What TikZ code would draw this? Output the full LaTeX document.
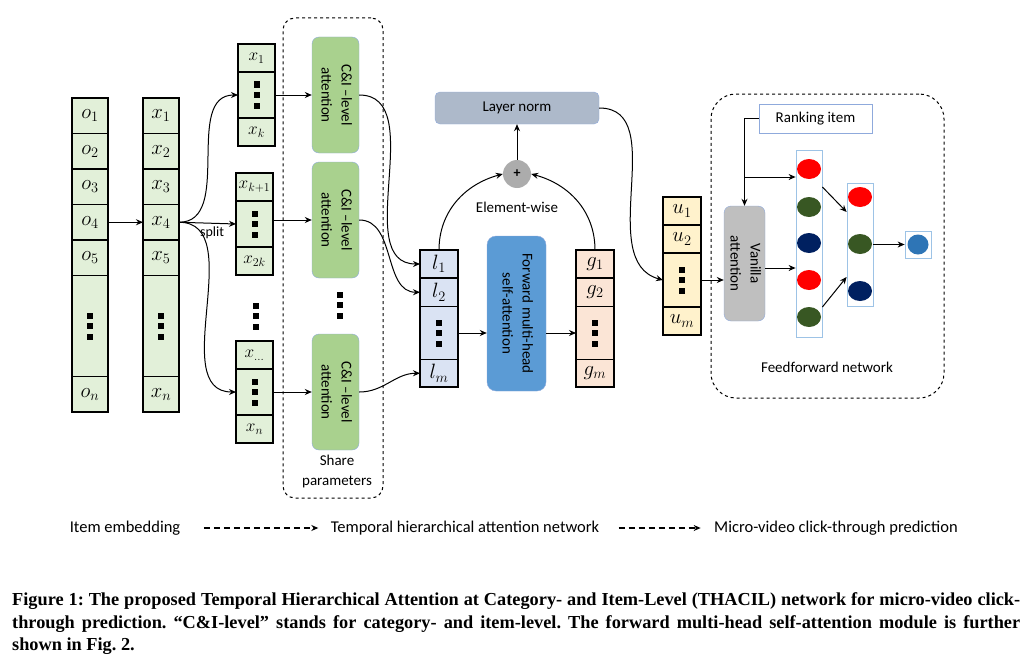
\documentclass[tikz,border=0pt]{standalone}
\usepackage{fontspec}
\setmainfont{Carlito}
\newfontfamily\capfont{Liberation Serif}
\usepackage{graphicx}
\usetikzlibrary{arrows.meta, positioning, shapes.geometric}

\definecolor{embgreen}{HTML}{E2F0D9}
\definecolor{attgreen}{HTML}{A9D18E}
\definecolor{attedge}{HTML}{8FAADC}
\definecolor{normgray}{HTML}{ADB9CA}
\definecolor{lblue}{HTML}{DAE3F3}
\definecolor{fwdblue}{HTML}{5B9BD5}
\definecolor{gpeach}{HTML}{FBE5D6}
\definecolor{uyellow}{HTML}{FFF2CC}
\definecolor{vangray}{HTML}{BFBFBF}
\definecolor{neured}{HTML}{FF0000}
\definecolor{neugreen}{HTML}{385723}
\definecolor{neunavy}{HTML}{002060}
\definecolor{outblue}{HTML}{2E75B6}
\definecolor{layedge}{HTML}{9DC3E6}

\newcommand{\sqdots}{\vbox{\offinterlineskip\hbox{\rule{6pt}{6pt}}\vskip4.5pt\hbox{\rule{6pt}{6pt}}\vskip4.5pt\hbox{\rule{6pt}{6pt}}}}
\newcommand{\vtext}[2]{\rotatebox{-90}{\begin{tabular}{@{}c@{}}#1\\#2\end{tabular}}}

\begin{document}
\frenchspacing
\begin{tikzpicture}[x=1pt, y=-1pt, >={Stealth[length=7pt, width=6pt]}, node distance=0pt, font=\fontsize{15}{20}\selectfont,
    cell/.style={draw, line width=1.2pt, inner sep=0pt, outer sep=0pt, font=\fontsize{20.74}{24}\selectfont},
    emb/.style={cell, fill=embgreen, minimum width=36pt, minimum height=35.5pt},
    sub/.style={cell, fill=embgreen, minimum width=37pt, minimum height=28pt, font=\fontsize{17.28}{20}\selectfont},
    seq/.style={cell, minimum width=38pt, minimum height=28pt, font=\fontsize{20.74}{24}\selectfont},
    catt/.style={draw=attedge, fill=attgreen, rounded corners=7pt, minimum width=47pt, minimum height=116pt, inner sep=0pt},
    neuron/.style={ellipse, minimum width=24pt, minimum height=20pt, inner sep=0pt},
    layer/.style={draw=layedge, line width=0.8pt, inner sep=0pt},
    arr/.style={->, line width=1pt},
    legarrow/.style={->, line width=1.8pt, dash pattern=on 6pt off 4pt},
    legend/.style={font=\fontsize{16.5}{19}\selectfont},
    caption/.style={anchor=west, inner sep=0pt, font=\capfont\bfseries\fontsize{18.3}{21}\selectfont}]

    \useasboundingbox (0,0) rectangle (1027,661);

    % Item embedding
    \node[emb, anchor=north west] (o1) at (72,98) {$o_1$};
    \node[emb, below=of o1] (o2) {$o_2$};
    \node[emb, below=of o2] (o3) {$o_3$};
    \node[emb, below=of o3] (o4) {$o_4$};
    \node[emb, below=of o4] (o5) {$o_5$};
    \node[emb, below=of o5, minimum height=101pt] (od) {\sqdots};
    \node[emb, below=of od] (on) {$o_n$};

    \node[emb, anchor=north west] (x1) at (143,98) {$x_1$};
    \node[emb, below=of x1] (x2) {$x_2$};
    \node[emb, below=of x2] (x3) {$x_3$};
    \node[emb, below=of x3] (x4) {$x_4$};
    \node[emb, below=of x4] (x5) {$x_5$};
    \node[emb, below=of x5, minimum height=101pt] (xd) {\sqdots};
    \node[emb, below=of xd] (xn) {$x_n$};

    % Split sequences
    \node[sub, anchor=north west] (a1) at (238,44) {$x_1$};
    \node[sub, below=of a1, minimum height=46pt] (ad) {\sqdots};
    \node[sub, below=of ad] (ak) {$x_k$};

    \node[sub, anchor=north west] (b1) at (236,173) {$x_{k+1}$};
    \node[sub, below=of b1, minimum height=46pt] (bd) {\sqdots};
    \node[sub, below=of bd] (bk) {$x_{2k}$};

    \node (gdots) at (256,316) {\sqdots};

    \node[sub, anchor=north west] (c1) at (236,341) {$x_{\dots}$};
    \node[sub, below=of c1, minimum height=46pt] (cd) {\sqdots};
    \node[sub, below=of cd] (cn) {$x_n$};

    % C&I-level attention
    \node[draw, dashed, rounded corners=12pt, line width=1pt, minimum width=100pt, minimum height=480pt] (share) at (333,258) {};
    \node[catt] (ci1) at (335.5,95) {\vtext{C\&I --level}{attention}};
    \node[catt] (ci2) at (335.5,220) {\vtext{C\&I --level}{attention}};
    \node (cdots) at (340,305) {\sqdots};
    \node[catt] (ci3) at (335.5,392) {\vtext{C\&I --level}{attention}};
    \node[align=center] (sharelbl) at (337,471) {Share\\parameters};

    % Temporal sequence
    \node[seq, fill=lblue, anchor=north west] (l1) at (420,250) {$l_1$};
    \node[seq, fill=lblue, below=of l1, minimum height=28.5pt] (l2) {$l_2$};
    \node[seq, fill=lblue, below=of l2, minimum height=53pt] (ld) {\sqdots};
    \node[seq, fill=lblue, below=of ld, minimum height=27.5pt] (lm) {$l_m$};

    \node[draw=attedge, fill=fwdblue, rounded corners=9pt, minimum width=59pt, minimum height=155pt, inner sep=0pt] (fwd) at (516.5,313.5) {\vtext{Forward multi-head}{self-attention}};

    \node[seq, fill=gpeach, anchor=north west] (g1) at (576,250) {$g_1$};
    \node[seq, fill=gpeach, below=of g1, minimum height=28.5pt] (g2) {$g_2$};
    \node[seq, fill=gpeach, below=of g2, minimum height=53pt] (gd) {\sqdots};
    \node[seq, fill=gpeach, below=of gd, minimum height=27.5pt] (gm) {$g_m$};

    \node[circle, fill=gray!65, minimum size=28pt, inner sep=0pt, font=\fontsize{14}{14}\selectfont\bfseries] (plus) at (517,174) {+};
    \node (ewise) at (517,207) {Element-wise};
    \node[draw=attedge, fill=normgray, rounded corners=5pt, minimum width=164pt, minimum height=32pt] (norm) at (517,108) {Layer norm};

    % User interest
    \node[seq, fill=uyellow, anchor=north west] (u1) at (663,197) {$u_1$};
    \node[seq, fill=uyellow, below=of u1] (u2) {$u_2$};
    \node[seq, fill=uyellow, below=of u2, minimum height=54pt] (ud) {\sqdots};
    \node[seq, fill=uyellow, below=of ud] (um) {$u_m$};

    % Feedforward network
    \node[draw, dashed, rounded corners=25pt, line width=1pt, minimum width=233pt, minimum height=304pt] (ffn) at (827.5,246) {};
    \node (ffnlbl) at (827,367) {Feedforward network};
    \node[draw=attedge, fill=vangray, rounded corners=7pt, minimum width=41pt, minimum height=115pt, inner sep=0pt] (van) at (744.5,263.5) {\vtext{Vanilla}{attention}};
    \node[draw=attedge, line width=0.8pt, fill=white, minimum width=113pt, minimum height=29pt] (rank) at (815.5,118.5) {Ranking item};

    \node[layer, minimum width=26pt, minimum height=187pt] (lay1) at (809,243.5) {};
    \node[neuron, fill=neured] (n11) at (809,169) {};
    \node[neuron, fill=neugreen] (n12) at (809,207) {};
    \node[neuron, fill=neunavy] (n13) at (809,243) {};
    \node[neuron, fill=neured] (n14) at (809,280) {};
    \node[neuron, fill=neugreen] (n15) at (809,317) {};

    \node[layer, minimum width=26pt, minimum height=123pt] (lay2) at (860,244.5) {};
    \node[neuron, fill=neured] (n21) at (860,197) {};
    \node[neuron, fill=neugreen] (n22) at (860,244) {};
    \node[neuron, fill=neunavy] (n23) at (860,291) {};

    \node[layer, minimum width=26pt, minimum height=27pt] (outbox) at (918,244.5) {};
    \node[neuron, fill=outblue, minimum width=21pt] (outn) at (918,244.5) {};

    % Arrows
    \draw[arr] (o4) -- (x4);
    \draw[arr] (x4.east) to[out=0, in=180] (ad.west);
    \draw[arr] (x4.east) -- node[below, pos=0.58, font=\fontsize{14}{16}\selectfont] {split} (bd.west);
    \draw[arr] (x4.east) to[out=0, in=180] (cd.west);
    \draw[arr] (ad.east) -- (ad.east -| ci1.west);
    \draw[arr] (bd.east |- ci2.west) -- (ci2.west);
    \draw[arr] (cd.east) -- (cd.east -| ci3.west);
    \draw[arr] (ci1.east) to[out=0, in=180] (l1.west);
    \draw[arr] (ci2.east) to[out=0, in=180] (l2.west);
    \draw[arr] (ci3.east) to[out=0, in=180] (lm.west);
    \draw[arr] (ld.east) -- (ld.east -| fwd.west);
    \draw[arr] (fwd.east |- gd.west) -- (gd.west);
    \draw[arr] (l1.north) to[out=90, in=195] (plus.west);
    \draw[arr] (g1.north) to[out=90, in=-15] (plus.east);
    \draw[arr] (plus) -- (norm);
    \draw[arr] (norm.east) to[out=0, in=165] (ud.west);
    \draw[arr] (ud.east) -- (ud.east -| van.west);
    \draw[arr] (rank.west) -| (van.north);
    \coordinate (br) at (744.5,177);
    \draw[arr] (br) -- (br -| lay1.west);
    \draw[arr] (van.east |- 0,268) -- (lay1.west |- 0,268);
    \draw[arr] (lay1.east |- 0,187) -- (lay2.west |- 0,212);
    \draw[arr] (lay1.east |- 0,307) -- (lay2.west |- 0,277);
    \draw[arr] (lay2.east) -- (outbox.west);

    % Legend
    \node[legend] (leg1) at (125,528) {Item embedding};
    \node[legend] (leg2) at (465,528) {Temporal hierarchical attention network};
    \node[legend] (leg3) at (836,528) {Micro-video click-through prediction};
    \draw[legarrow, shorten <=20pt, shorten >=9pt] (leg1) -- (leg2);
    \draw[legarrow, shorten <=16pt, shorten >=10pt] (leg2) -- (leg3);

    % Caption
    \node[caption] (cap1) at (12,601) {\makebox[1008pt][s]{Figure 1: The proposed Temporal Hierarchical Attention at Category- and Item-Level (THACIL) network for micro-video click-}};
    \node[caption] (cap2) at (12,624) {\makebox[1008pt][s]{through prediction. “C\&I-level” stands for category- and item-level. The forward multi-head self-attention module is further}};
    \node[caption] (cap3) at (12,646) {shown in Fig. 2.};
\end{tikzpicture}
\end{document}
